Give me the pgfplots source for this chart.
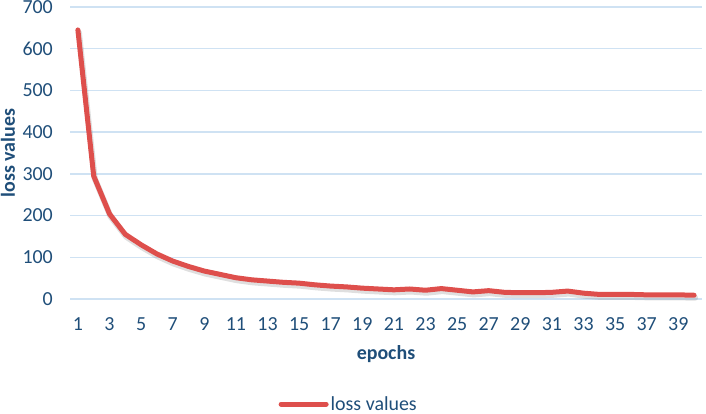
\documentclass[border=0pt]{standalone}
\usepackage{pgfplots}
\pgfplotsset{compat=1.18}
\usepackage{fontspec}
\setmainfont{Carlito}
\definecolor{txtblue}{HTML}{1F4E79}
\definecolor{gridblue}{HTML}{CFE2F3}
\definecolor{linered}{HTML}{DE4F4C}
\pgfplotstableread{
x y
1 645
2 295
3 204
4 155
5 130
6 108
7 91
8 78
9 67
10 59
11 51
12 46
13 43
14 40
15 38
16 34
17 31
18 29
19 26
20 24
21 22
22 24
23 21
24 25
25 21
26 17
27 20
28 16
29 15
30 15
31 16
32 19
33 14
34 11
35 11
36 11
37 10
38 10
39 10
40 9
}\loss
\begin{document}
\begin{tikzpicture}[x=1bp,y=1bp]
\useasboundingbox (0,0) rectangle (706,413);
\begin{axis}[
  at={(70bp,114bp)}, anchor=south west,
  scale only axis, width=632bp, height=292bp,
  xmin=0.5, xmax=40.5, ymin=0, ymax=700,
  xtick={1,3,...,39}, ytick={0,100,...,700},
  ymajorgrids, grid style={gridblue, line width=1.5bp},
  axis line style={draw=none},
  major tick length=0pt,
  font=\fontsize{20}{24}\selectfont\color{txtblue},
  tick label style={font=\fontsize{20}{24}\selectfont, text=txtblue},
  /pgf/number format/assume math mode=true,
  yticklabel style={anchor=east, inner sep=0pt, xshift=-17bp},
  xticklabel style={anchor=base, inner sep=0pt, yshift=-31bp},
  xlabel={\textbf{epochs}}, ylabel={\textbf{loss values}},
  xlabel style={at={(axis description cs:0.5,-0.19)}, anchor=center, text=txtblue},
  ylabel style={at={(axis description cs:-0.098,0.5)}, anchor=center, rotate=0, text=txtblue},
  legend style={at={(axis description cs:0.441,-0.36)}, anchor=center, draw=none, fill=none,
    font=\fontsize{20}{24}\selectfont, text=txtblue, inner sep=0pt},
  legend image code/.code={\draw[#1] (0bp,0bp) -- (45bp,0bp);},
  clip=false,
]
\addplot[gray, opacity=0.25, line width=6bp, line join=round, line cap=round, forget plot, shift={(1bp,-2.5bp)}] table[x=x,y=y] {\loss};
\addplot[linered, line width=5bp, line join=round, line cap=round] table[x=x,y=y] {\loss};
\addlegendentry{loss values}
\end{axis}
\end{tikzpicture}
\end{document}
